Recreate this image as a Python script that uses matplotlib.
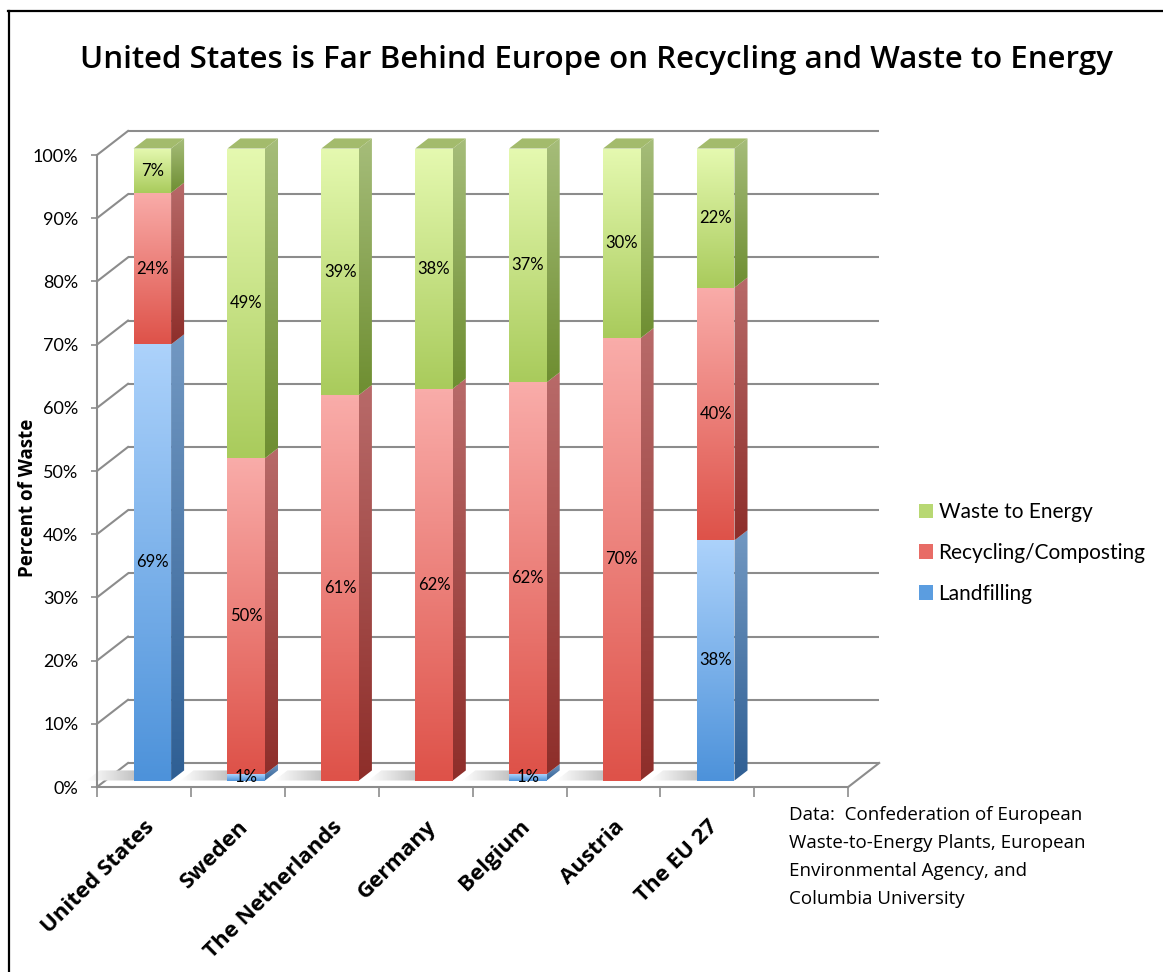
import numpy as np
import matplotlib
matplotlib.use("Agg")
import matplotlib.pyplot as plt
from matplotlib.patches import Polygon, Patch
from matplotlib.colors import LinearSegmentedColormap
from matplotlib.lines import Line2D

# data (percent of municipal waste)
countries = ['United States', 'Sweden', 'The Netherlands', 'Germany',
             'Belgium', 'Austria', 'The EU 27']
landfilling = [69, 1, 0, 0, 1, 0, 38]
recycling = [24, 50, 61, 62, 62, 70, 40]
waste_to_energy = [7, 49, 39, 38, 37, 30, 22]
series_names = ['Landfilling', 'Recycling/Composting', 'Waste to Energy']
y_ticks = list(range(0, 101, 10))
source_note = ("Data:  Confederation of European\n"
               "Waste-to-Energy Plants, European\n"
               "Environmental Agency, and\n"
               "Columbia University")

# colours: (front top, front bottom, side top, side bottom, top face)
styles = {
    'Landfilling': ('#acd2fb', '#4d92da', '#7298c2', '#2f5f94', '#8fb4dc'),
    'Recycling/Composting': ('#f9aca9', '#de5249', '#b86a69', '#8e2e2a', '#d08a88'),
    'Waste to Energy': ('#e5f9b0', '#a9cb5c', '#a6bd7a', '#6e8e31', '#a3bb6c'),
}
legend_colors = {'Landfilling': '#5b9de0', 'Recycling/Composting': '#e86c66',
                 'Waste to Energy': '#b8d873'}

W, H = 1163, 972
n_slots = 8                 # one empty slot at the right end of the floor
DX, DY = 0.33, 3.8          # depth of the 3-D box in data units
F0, F1 = 0.27, 0.69         # depth range occupied by the bars
BAR_W = 0.4
GRID = '#8c8c8c'
XLIM = (-0.2, 8.5)
YLIM = (0, 106)

plt.rcParams['font.family'] = ['Open Sans', 'DejaVu Sans']

# front plane: x=0 at 97px, 93.9px per slot; y=0 at 787px, 6.32px per percent
px_x, px_y = 93.9, 6.32
left_px = 97 + XLIM[0] * px_x
right_px = 97 + XLIM[1] * px_x
top_px = 787 - YLIM[1] * px_y
fig = plt.figure(figsize=(W / 100, H / 100), dpi=100)
ax = fig.add_axes([left_px / W, 1 - 787 / H, (right_px - left_px) / W, (787 - top_px) / H])


def grad_poly(verts, c_hi, c_lo, z, horizontal=False):
    poly = Polygon(verts, closed=True, facecolor='none', edgecolor='none')
    ax.add_patch(poly)
    xs = [v[0] for v in verts]
    ys = [v[1] for v in verts]
    cmap = LinearSegmentedColormap.from_list('g', [c_lo, c_hi])
    ramp = np.linspace(0, 1, 128)
    arr = ramp.reshape(1, -1) if horizontal else ramp.reshape(-1, 1)
    img = ax.imshow(arr, extent=(min(xs), max(xs), min(ys), max(ys)),
                    origin='lower', cmap=cmap, aspect='auto',
                    interpolation='bilinear', zorder=z)
    img.set_clip_path(poly)
    return img


# back wall, left wall and floor
for yv in y_ticks:
    ax.plot([DX, n_slots + DX], [yv + DY, yv + DY], color=GRID, lw=1.5,
            zorder=1, clip_on=False, solid_capstyle='butt')
    ax.plot([0, DX], [yv, yv + DY], color=GRID, lw=1.5, zorder=1, clip_on=False)
ax.plot([n_slots, n_slots + DX], [0, DY], color=GRID, lw=1.5, zorder=1, clip_on=False)

# stacked 3-D bars
stacks = [landfilling, recycling, waste_to_energy]
for i in range(len(countries)):
    x0 = i + 0.5 - BAR_W / 2
    x1 = i + 0.5 + BAR_W / 2
    fx, fy = F0 * DX, F0 * DY
    bx, by = F1 * DX, F1 * DY
    z = 5 + i

    # soft floor shadow left of the bar foot
    grad_poly([(x0 - 0.5 + fx, fy), (x0 + fx, fy), (x0 + bx, by), (x0 - 0.5 + bx, by)],
              '#b4b4b4', '#ffffff', 2, horizontal=True)

    base = 0
    for name, vals in zip(series_names, stacks):
        v = vals[i]
        if v == 0:
            continue
        ftop, fbot, stop, sbot, tface = styles[name]
        top = base + v
        grad_poly([(x0 + fx, base + fy), (x1 + fx, base + fy),
                   (x1 + fx, top + fy), (x0 + fx, top + fy)], ftop, fbot, z)
        grad_poly([(x1 + fx, base + fy), (x1 + bx, base + by),
                   (x1 + bx, top + by), (x1 + fx, top + fy)], stop, sbot, z)
        if top >= 100:
            ax.add_patch(Polygon([(x0 + fx, top + fy), (x1 + fx, top + fy),
                                  (x1 + bx, top + by), (x0 + bx, top + by)],
                                 closed=True, facecolor=tface, edgecolor='none',
                                 zorder=z))
        ax.text(i + 0.5 + fx, base + v / 2 + fy, f'{v}%', ha='center', va='center',
                fontsize=12, family=['Lato', 'DejaVu Sans'], zorder=30, clip_on=False)
        base = top

ax.set_xlim(*XLIM)
ax.set_ylim(*YLIM)

for side in ['top', 'right']:
    ax.spines[side].set_visible(False)
for side in ['left', 'bottom']:
    ax.spines[side].set_color(GRID)
    ax.spines[side].set_linewidth(1.5)
ax.spines['left'].set_position(('data', 0))
ax.spines['left'].set_bounds(0, 100)
ax.spines['bottom'].set_bounds(0, n_slots)
ax.patch.set_visible(False)

ax.set_yticks(y_ticks)
ax.set_yticklabels([f'{t}%' for t in y_ticks], family=['Lato', 'DejaVu Sans'])
ax.tick_params(axis='y', length=4.5, width=1.2, color=GRID, labelsize=13, pad=9)

ax.set_xticks(range(n_slots + 1))
ax.set_xticklabels([])
ax.set_xticks([i + 0.5 for i in range(len(countries))], minor=True)
ax.set_xticklabels(countries, minor=True, rotation=45, ha='right',
                   rotation_mode='anchor', fontsize=16, fontweight='bold')
ax.tick_params(axis='x', which='major', length=7, width=1.2, color=GRID)
ax.tick_params(axis='x', which='minor', length=0, pad=21)
for lab in ax.get_xticklabels(minor=True):
    lab.set_va('top')

# titles and notes
fig.text(597 / W, 1 - 60 / H,
         'United States is Far Behind Europe on Recycling and Waste to Energy',
         ha='center', va='center', fontsize=22.5, fontweight='semibold')
fig.text(28 / W, 1 - 498 / H, 'Percent of Waste', rotation=90, ha='center',
         va='center', fontsize=13.5, fontweight='bold')
fig.text(789 / W, 1 - 806 / H, source_note, ha='left', va='top', fontsize=13.5,
         linespacing=1.72)

handles = [Patch(facecolor=legend_colors[n], edgecolor='none') for n in series_names[::-1]]
fig.legend(handles, series_names[::-1], loc='center left',
           bbox_to_anchor=(900 / W, 1 - 553 / H), frameon=False,
           prop={'family': ['Lato', 'DejaVu Sans'], 'size': 15},
           handlelength=0.7, handleheight=0.7, handletextpad=0.25, labelspacing=1.0)

# frame around the chart
fig.add_artist(Line2D([8 / W, 1], [1 - 11 / H, 1 - 11 / H], color='black', lw=1.6))
fig.add_artist(Line2D([9 / W, 9 / W], [1 - 11 / H, 0], color='black', lw=1.6))

fig.savefig('out.png', dpi=100)
